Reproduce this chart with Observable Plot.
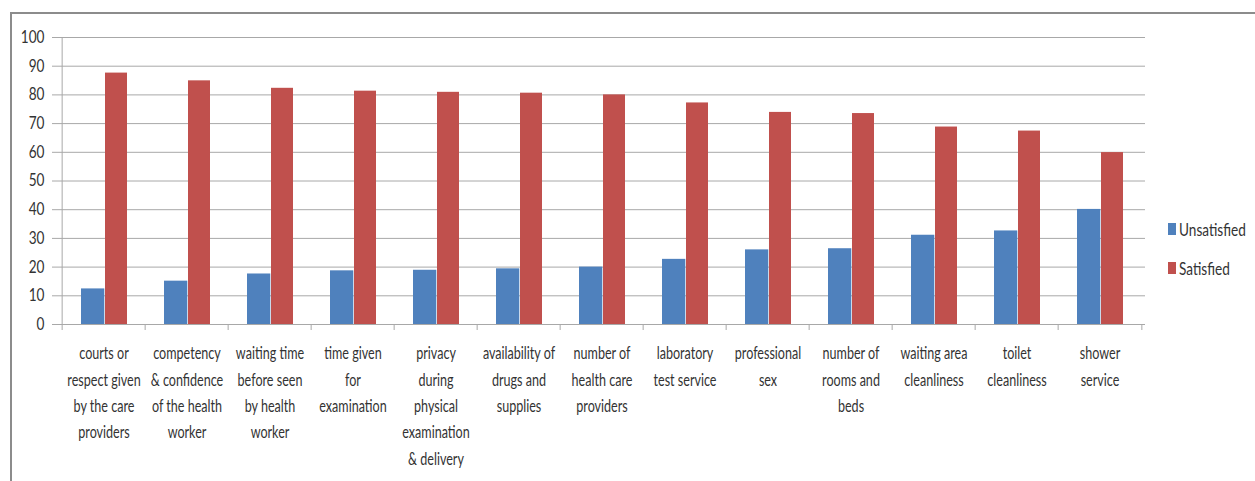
<!DOCTYPE html>
<html>
<head>
<meta charset="utf-8">
<script src="https://cdn.jsdelivr.net/npm/d3@7"></script>
<script src="https://cdn.jsdelivr.net/npm/@observablehq/plot@0.6"></script>
<style>
  body { margin: 0; background: #fff; }
  #wrap { position: relative; width: 1255px; height: 481px; overflow: hidden;
          font-family: Lato, "Open Sans", sans-serif; }
  #frame { position: absolute; left: 10px; top: 12px; width: 1270px; height: 490px;
           border-top: 2px solid #8c8c8c; border-left: 2px solid #8c8c8c; }
  #chart { position: absolute; left: 0; top: 0; }
  .legend-item { position: absolute; left: 1168px; font-size: 17px; color: #333;
                 display: flex; align-items: center; height: 20px; }
  .legend-item span.sw { display: inline-block; width: 8px; height: 12px; margin-right: 3px; }
  .legend-item span.tx { display: inline-block; transform: scaleX(0.8); transform-origin: left center; }
</style>
</head>
<body>
<div id="wrap">
  <div id="frame"></div>
  <div id="chart"></div>
</div>
<script>
// ---- data ----
const categories = [
  "courts or respect given by the care providers",
  "competency & confidence of the health worker",
  "waiting time before seen by health worker",
  "time given for examination",
  "privacy during physical examination & delivery",
  "availability of drugs and supplies",
  "number of health care providers",
  "laboratory test service",
  "professional sex",
  "number of rooms and beds",
  "waiting area cleanliness",
  "toilet cleanliness",
  "shower service"
];
const tickLabels = [
  "courts or\nrespect given\nby the care\nproviders",
  "competency\n& confidence\nof the health\nworker",
  "waiting time\nbefore seen\nby health\nworker",
  "time given\nfor\nexamination",
  "privacy\nduring\nphysical\nexamination\n& delivery",
  "availability of\ndrugs and\nsupplies",
  "number of\nhealth care\nproviders",
  "laboratory\ntest service",
  "professional\nsex",
  "number of\nrooms and\nbeds",
  "waiting area\ncleanliness",
  "toilet\ncleanliness",
  "shower\nservice"
];
const unsatisfied = [12.4, 15.1, 17.6, 18.7, 18.9, 19.4, 20.0, 22.7, 26.0, 26.4, 31.1, 32.6, 40.1];
const satisfied   = [87.6, 84.9, 82.3, 81.3, 80.9, 80.6, 80.0, 77.2, 73.9, 73.5, 68.8, 67.4, 59.9];
const seriesNames = ["Unsatisfied", "Satisfied"];
const seriesColors = ["#4F81BD", "#C0504D"];
const yTicks = [0, 10, 20, 30, 40, 50, 60, 70, 80, 90, 100];

// ---- build ----
const rowsU = categories.map((c, i) => ({category: c, series: seriesNames[0], value: unsatisfied[i]}));
const rowsS = categories.map((c, i) => ({category: c, series: seriesNames[1], value: satisfied[i]}));

const W = 1255, H = 481, mL = 57, mR = 110, mT = 37, mB = 157;
const bw = (W - mL - mR) / categories.length;
const font = 'Lato, "Open Sans", sans-serif';
const gridColor = "#a8a8a8";
const textColor = "#333333";

const chart = Plot.plot({
  width: W, height: H,
  marginLeft: mL, marginRight: mR, marginTop: mT, marginBottom: mB,
  style: {fontFamily: font, background: "transparent", color: textColor},
  x: {domain: categories, padding: 0, label: null},
  y: {domain: [0, 100], label: null},
  color: {domain: seriesNames, range: seriesColors},
  marks: [
    Plot.ruleY(yTicks, {stroke: gridColor, strokeWidth: 1}),
    Plot.barY(rowsU, {x: "category", y: "value", fill: "series", insetLeft: 19, insetRight: 40.7}),
    Plot.barY(rowsS, {x: "category", y: "value", fill: "series", insetLeft: 43, insetRight: 18}),
    Plot.ruleX([categories[0]], {dx: -bw / 2, stroke: gridColor}),
    Plot.axisY({ticks: yTicks, tickSize: 5, tickPadding: 8, fontSize: 17, label: null, stroke: gridColor, fill: textColor}),
    Plot.axisX({tickSize: 0, tickPadding: 16, fontSize: 17, lineHeight: 1.55, label: null, fill: textColor,
                tickFormat: c => tickLabels[categories.indexOf(c)]}),
    Plot.axisX({tickSize: 6, tickFormat: () => "", dx: -bw / 2, label: null, stroke: gridColor}),
    Plot.axisX([categories[categories.length - 1]], {tickSize: 6, tickFormat: () => "", dx: bw / 2, label: null, stroke: gridColor})
  ]
});
document.getElementById("chart").appendChild(chart);

// condense axis texts horizontally (reference uses a narrow-looking font)
function condense(selector, s) {
  chart.querySelectorAll(selector).forEach(t => {
    if (t.hasAttribute("x") && !t.getAttribute("transform")) {
      const x = t.getAttribute("x") || 0, y = t.getAttribute("y") || 0;
      t.setAttribute("x", 0); t.setAttribute("y", 0);
      t.setAttribute("transform", `translate(${x},${y}) scale(${s},1)`);
    } else {
      t.setAttribute("transform", (t.getAttribute("transform") || "") + ` scale(${s},1)`);
    }
  });
}
condense('g[aria-label="x-axis tick label"] text', 0.74);
condense('g[aria-label="y-axis tick label"] text', 0.8);

// legend
const legendTops = [219, 258];
seriesNames.forEach((name, i) => {
  const item = document.createElement("div");
  item.className = "legend-item";
  item.style.top = legendTops[i] + "px";
  const sw = document.createElement("span");
  sw.className = "sw";
  sw.style.background = seriesColors[i];
  const tx = document.createElement("span");
  tx.className = "tx";
  tx.textContent = name;
  item.appendChild(sw);
  item.appendChild(tx);
  document.getElementById("wrap").appendChild(item);
});
</script>
</body>
</html>
